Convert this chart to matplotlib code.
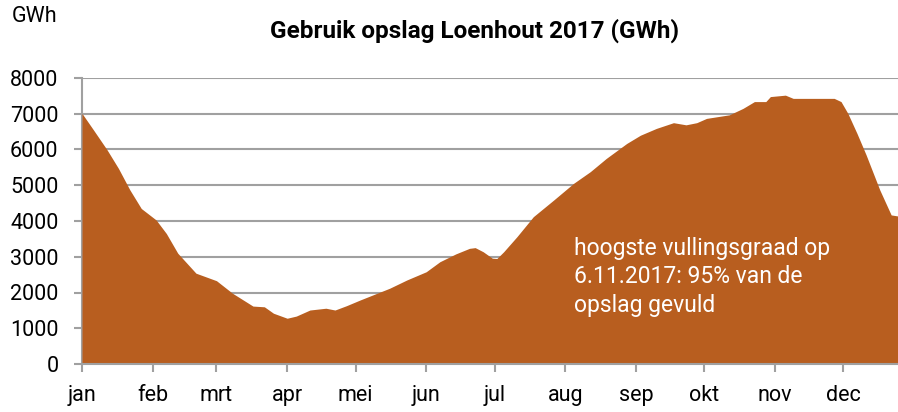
import matplotlib
matplotlib.use("Agg")
import matplotlib.pyplot as plt
import numpy as np

# day-of-year (0 = 1 jan) and stored volume (GWh)
days = [0, 5, 11, 16, 21, 26, 32.5, 37, 42, 50, 59, 66, 75, 80, 84, 90, 94, 100, 107, 111, 116, 122,
        135, 142.5, 151, 157, 164, 170, 172.5, 176, 180, 182, 185, 190.8, 198, 207, 215.6, 223, 230,
        239, 245, 252, 259.5, 265, 269.7, 274, 284, 290, 295, 300, 302, 308.6, 312, 324, 330, 333,
        336, 340, 344, 350, 355, 358]
volume = [7010, 6550, 5990, 5470, 4870, 4350, 4030, 3650, 3100, 2540, 2330, 1980, 1620, 1600, 1420,
          1280, 1340, 1510, 1560, 1510, 1630, 1790,
          2120, 2350, 2580, 2860, 3080, 3235, 3255, 3140, 2960, 2950, 3140, 3560, 4120, 4590, 5050,
          5380, 5750, 6170, 6400, 6590, 6750, 6690, 6750, 6870, 6970, 7150, 7340, 7340, 7480, 7520,
          7430, 7430, 7430, 7340, 7010, 6450, 5850, 4870, 4170, 4140]

month_starts = [0, 31, 59, 90, 120, 151, 181, 212, 243, 273, 304, 334]
month_labels = ["jan", "feb", "mrt", "apr", "mei", "jun", "jul", "aug", "sep", "okt", "nov", "dec"]
yticks = [0, 1000, 2000, 3000, 4000, 5000, 6000, 7000, 8000]

fill_color = "#B85E1F"
grid_color = "#A0A0A0"

plt.rcParams['font.family'] = ['Roboto', 'DejaVu Sans']
fig = plt.figure(figsize=(8.98, 4.12), dpi=100)
ax = fig.add_axes([82/898, 48/412, 1 - 82/898, (364-78)/412])

ax.fill_between(days, volume, 0, color=fill_color, linewidth=0, zorder=3)

ax.set_xlim(0, 358)
ax.set_ylim(0, 8000)
ax.set_yticks(yticks)
ax.set_yticklabels([str(v) for v in yticks], fontsize=15.5)
ax.set_xticks(month_starts)
ax.set_xticklabels(month_labels, fontsize=15.5)
ax.yaxis.grid(True, color=grid_color, linewidth=1.5, zorder=1)
ax.set_axisbelow(True)
for s in ["top", "right"]:
    ax.spines[s].set_visible(False)
for s in ["left", "bottom"]:
    ax.spines[s].set_color(grid_color)
    ax.spines[s].set_linewidth(1.5)
ax.spines["bottom"].set_zorder(4)
ax.tick_params(axis="both", color=grid_color, width=1.5, length=6, direction="out")
ax.tick_params(axis="y", pad=11)
ax.tick_params(axis="x", pad=9)

ax.text(216, 3560, "hoogste vullingsgraad op\n6.11.2017: 95% van de\nopslag gevuld",
        color="white", fontsize=16.5, va="top", ha="left", linespacing=1.3, zorder=5)

fig.text(475/898, 1 - 31/412, "Gebruik opslag Loenhout 2017 (GWh)", fontsize=17.5,
         fontweight="bold", ha="center", va="center")
fig.text(12/898, 1 - 17/412, "GWh", fontsize=15.5, ha="left", va="center")

fig.savefig("out.png", dpi=100)
